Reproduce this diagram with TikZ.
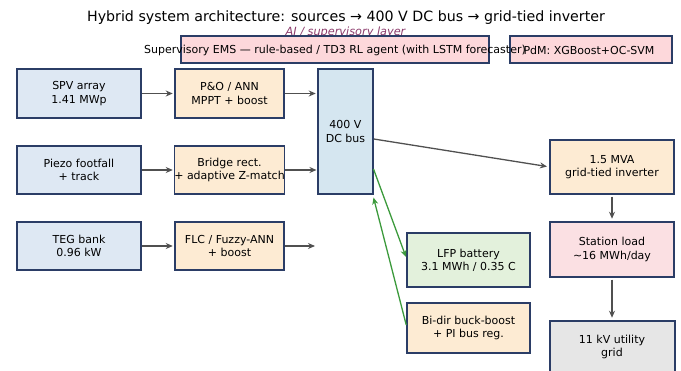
\documentclass[tikz,border=0pt]{standalone}
\usepackage{fontspec}
\setmainfont{DejaVu Sans}
\usetikzlibrary{arrows.meta}
\definecolor{bordc}{HTML}{2B3D66}
\definecolor{srcc}{HTML}{DEE8F3}
\definecolor{convc}{HTML}{FDEBD3}
\definecolor{busc}{HTML}{D5E6F0}
\definecolor{batc}{HTML}{E3F1DC}
\definecolor{loadc}{HTML}{FBE0E3}
\definecolor{emsc}{HTML}{FDD8DB}
\definecolor{gridc}{HTML}{E6E6E6}
\definecolor{arrc}{HTML}{505050}
\definecolor{grnc}{HTML}{3C9A3C}
\definecolor{aic}{HTML}{8B3A6B}
\tikzset{
  box/.style={draw=bordc, line width=1.5pt, align=center, font=\fontsize{11}{13.2}\selectfont, inner sep=0pt},
  flow/.style={draw=arrc, line width=1.3pt, -{Stealth[length=7pt,width=6pt]}},
  gflow/.style={draw=grnc, line width=1.3pt, -{Stealth[length=7pt,width=6pt]}},
}
\newcommand{\bx}[7]{% name, x1, y1, x2, y2, fill, text
  \node[box, fill=#6, minimum width={#4-#2}, minimum height={#5-#3}] (#1) at ({(#2+#4)/2},{(#3+#5)/2}) {#7};}
\begin{document}
\begin{tikzpicture}[x=1pt,y=-1pt]
\useasboundingbox (0,0) rectangle (681,371);
\clip (0,0) rectangle (681,371);
\node[font=\fontsize{14.2}{16}\selectfont] (title) at (346,18) {Hybrid system architecture: sources → 400 V DC bus → grid-tied inverter};
\node[font=\fontsize{11.3}{13}\selectfont\itshape, text=aic] (ai) at (345.5,32.5) {AI / supervisory layer};
\bx{ems}{181}{36}{489}{63}{emsc}{}
\bx{pdm}{510}{36}{672}{63}{emsc}{}
\node[font=\fontsize{11}{13}\selectfont] (emst) at (335,50) {Supervisory EMS — rule-based / TD3 RL agent (with LSTM forecaster)};
\node[font=\fontsize{11}{13}\selectfont] (pdmt) at (589,50) {PdM: XGBoost+OC-SVM};
% sources
\bx{spv}{17}{69}{141}{118}{srcc}{SPV array\\1.41 MWp}
\bx{piezo}{17}{146}{141}{194}{srcc}{Piezo footfall\\+ track}
\bx{teg}{17}{222}{141}{270}{srcc}{TEG bank\\0.96 kW}
% converters
\bx{po}{175}{69}{284}{118}{convc}{P\&O / ANN\\MPPT + boost}
\bx{bridge}{175}{146}{284}{194}{convc}{Bridge rect.\\+ adaptive Z-match}
\bx{flc}{175}{222}{284}{270}{convc}{FLC / Fuzzy-ANN\\+ boost}
% bus
\bx{bus}{318}{69}{373}{194}{busc}{400 V\\DC bus}
% storage
\bx{lfp}{407}{233}{530}{287}{batc}{LFP battery\\3.1 MWh / 0.35 C}
\bx{bidir}{407}{303}{530}{353}{convc}{Bi-dir buck-boost\\+ PI bus reg.}
% grid side
\bx{inv}{550}{140}{674}{194}{convc}{1.5 MVA\\grid-tied inverter}
\bx{load}{550}{222}{674}{277}{loadc}{Station load\\\textasciitilde16 MWh/day}
\bx{grid}{550}{321}{675}{377}{gridc}{}
\node[font=\fontsize{11}{13.2}\selectfont, align=center] (gridt) at (612,347) {11 kV utility\\grid};
% arrows
\draw[flow] (spv.east) -- ++(31,0);
\draw[flow] (piezo.east) -- ++(31,0);
\draw[flow] (teg.east) -- ++(31,0);
\draw[flow] (po.east) -- ++(31,0);
\draw[flow] (bridge.east) -- ++(31,0);
\coordinate (flcend) at (315,246);
\draw[flow] (flc.east) -- (flcend);
\draw[flow] (bus.east |- 0,139) -- (547,166.5);
\draw[flow] (inv.south) ++(0,2) -- ++(0,22);
\draw[flow] (load.south) ++(0,2) -- ++(0,38);
\draw[gflow] (373.5,169) -- (406,257);
\draw[gflow] (bidir.west |- 0,325) -- (373.5,197.5);
\end{tikzpicture}
\end{document}
